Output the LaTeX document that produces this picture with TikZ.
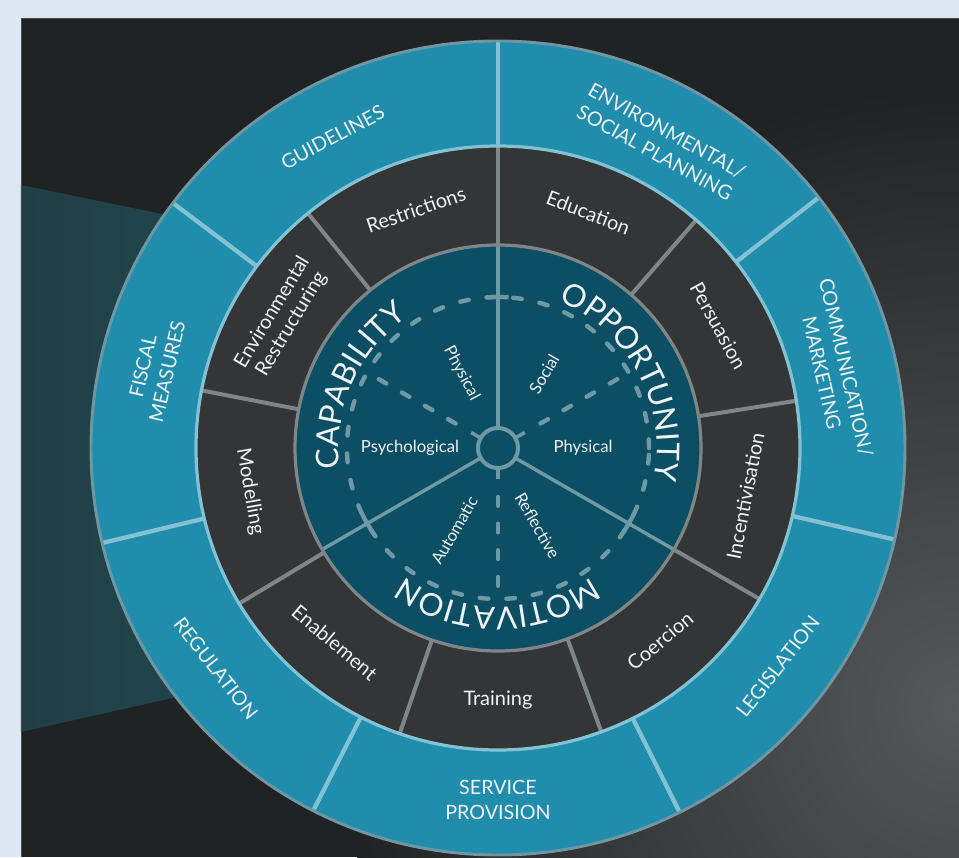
\documentclass[tikz,border=0pt]{standalone}
\usepackage{fontspec}
\setmainfont{Lato}
\usetikzlibrary{decorations.text}
\definecolor{bgblue}{HTML}{DDE8F5}
\definecolor{panelA}{HTML}{212223}
\definecolor{panelB}{HTML}{55595B}
\definecolor{bandL}{HTML}{1F3F45}
\definecolor{bandR}{HTML}{26505A}
\definecolor{outerteal}{HTML}{1F8DAB}
\definecolor{outersep}{HTML}{82C2D4}
\definecolor{outerborder}{HTML}{7196A3}
\definecolor{midgrey}{HTML}{333536}
\definecolor{midsep}{HTML}{7E8688}
\definecolor{innerteal}{HTML}{0C4F64}
\definecolor{innerline}{HTML}{6E99A5}
\definecolor{txt}{HTML}{EEF3F5}
\tikzset{
  outerlbl/.style={text=txt, font=\fontsize{14.8}{18.7}\selectfont, align=center, inner sep=0pt},
  midlbl/.style={text=txt, font=\fontsize{15}{16.8}\selectfont, align=center, inner sep=0pt},
  innerlbl/.style={text=txt, font=\fontsize{12.5}{14}\selectfont, inner sep=0pt},
  oseg/.style={draw=outersep, line width=3.2pt},
  mseg/.style={draw=midsep, line width=3pt},
  iseg/.style={draw=innerline, line width=2.6pt},
  dashline/.style={draw=innerline, line width=3.3pt, line cap=round, dash pattern=on 6.5pt off 13.5pt},
  bigarc/.style={decorate, decoration={text along path, text align=center,
     text={|\fontsize{23.5}{23.5}\selectfont\color{txt}|#1}}}
}
\begin{document}
\begin{tikzpicture}[x=0.75pt,y=0.75pt]
\useasboundingbox (-498,-409) rectangle (461,448);
\fill[bgblue] (-498,-409) rectangle (461,448);
% dark panel
\begin{scope}
\clip (-477,430) rectangle (461,-409);
\fill[panelA] (-477,430) rectangle (461,-409);
\shade[inner color=panelB, outer color=panelA] (461,-260) circle (620);
\shade[left color=bandL, right color=bandR] (-477,263) -- (0,165) -- (0,-177) -- (-477,-284) -- cycle;
\end{scope}
\draw[black!70, line width=0.6pt] (-477,-409) -- (-477,430) -- (461,430);
% outer ring
\fill[outerteal] (0,0) circle (407);
\foreach \a in {90,38,-13,-63.5,-117,-166.5,143} \draw[oseg] (\a:302) -- (\a:407);
\draw[outerborder, line width=2.2pt] (0,0) circle (407);
% middle ring
\fill[midgrey] (0,0) circle (302);
\foreach \a in {90,49,9,-30,-70,-109,-149,169,129} \draw[mseg] (\a:203) -- (\a:302);
\draw[outersep, line width=2.4pt] (0,0) circle (302);
% inner circle
\fill[innerteal] (0,0) circle (203);
\draw[dashline] (0,0) circle (151);
\foreach \a in {30,150,270} \draw[dashline] (\a:49) -- (\a:151);
\foreach \a in {90,-30,210} {
  \draw[iseg] (\a:20) -- (\a:203);
  \draw[draw=innerline, line width=3.2pt] (\a-4:151) arc[start angle=\a-4, end angle=\a+4, radius=151];
}
\foreach \a in {30,150,270} \draw[iseg] (\a:20) -- (\a:31);
\draw[draw=innerline, fill=innerteal, line width=3pt] (0,0) circle (20);
\draw[midsep, line width=2.4pt] (0,0) circle (203);
% big curved labels
\path[bigarc=OPPORTUNITY] (88:159) arc[start angle=88, end angle=-32, radius=159];
\path[bigarc=CAPABILITY] (216:159) arc[start angle=216, end angle=96, radius=159];
\path[bigarc=MOTIVATION] (-30:159) arc[start angle=-30, end angle=-150, radius=159];
% inner small labels
\node[innerlbl, rotate=-62] (capphys) at (116:83) {Physical};
\node[innerlbl] (psych) at (180:88) {Psychological};
\node[innerlbl, rotate=60] (social) at (58:87) {Social};
\node[innerlbl] (oppphys) at (0:85) {Physical};
\node[innerlbl, rotate=60] (auto) at (242:93) {Automatic};
\node[innerlbl, rotate=-60] (refl) at (-63:87) {Reflective};
% middle labels
\node[midlbl, rotate=19] (restr) at (109:252) {Restrictions};
\node[midlbl, rotate=-21] (educ) at (69:252) {Education};
\node[midlbl, rotate=-61] (pers) at (29:252) {Persuasion};
\node[midlbl, rotate=79] (incent) at (-11:252) {Incentivisation};
\node[midlbl, rotate=40] (coerc) at (-50:252) {Coercion};
\node[midlbl] (train) at (-90:252) {Training};
\node[midlbl, rotate=-40] (enab) at (230:254) {Enablement};
\node[midlbl, rotate=-80] (model) at (190:252) {Modelling};
\node[midlbl, rotate=59] (envr) at (149:252) {Environmental\\Restructuring};
% outer labels
\node[outerlbl, rotate=28] (guide) at (118:352) {GUIDELINES};
\node[outerlbl, rotate=-29] (envsoc) at (62:347) {ENVIRONMENTAL/\\SOCIAL PLANNING};
\node[outerlbl, rotate=-77] (comm) at (13:345) {COMMUNICATION/\\MARKETING};
\node[outerlbl, rotate=52] (legis) at (-38:355) {LEGISLATION};
\node[outerlbl] (serv) at (-90:352) {SERVICE\\PROVISION};
\node[outerlbl, rotate=-52] (regul) at (218:358) {REGULATION};
\node[outerlbl, rotate=77] (fiscal) at (167:352) {FISCAL\\MEASURES};
\end{tikzpicture}
\end{document}
